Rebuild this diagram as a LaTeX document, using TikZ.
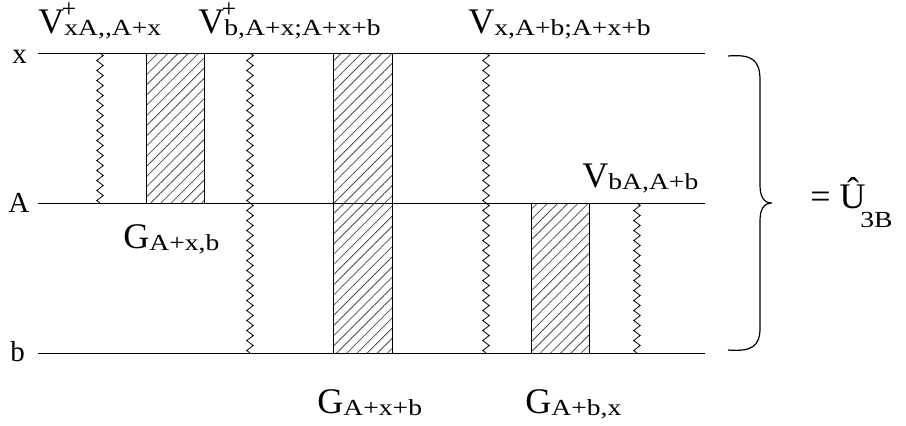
\documentclass[tikz,border=0pt]{standalone}
\usepackage{fontspec}
\setmainfont{Liberation Serif}
\newfontfamily\subfont[FakeStretch=1.2]{Liberation Serif}
\usetikzlibrary{decorations.pathmorphing,patterns.meta}

\tikzset{
  level/.style={line width=0.5pt},
  wave/.style={decorate, decoration={zigzag, segment length=5pt, amplitude=1.6pt}, line width=0.4pt},
  hatched/.style={draw, line width=0.5pt, pattern={Lines[angle=45,distance=3.6pt,line width=0.4pt]}, pattern color=black!70},
  big/.style={font=\fontsize{18pt}{20pt}\selectfont, inner sep=0pt, anchor=base west},
  lvl/.style={font=\fontsize{14.5pt}{16pt}\selectfont, inner sep=0pt, anchor=base west},
  supplus/.style={font=\fontsize{13pt}{14pt}\selectfont, inner sep=0pt},
  brace/.style={line width=0.6pt}
}
\newcommand{\lowsub}[1]{\raisebox{-1pt}{\subfont\fontsize{11.5pt}{12pt}\selectfont #1}}

\begin{document}
\begin{tikzpicture}[x=0.5pt, y=-0.5pt]
    \useasboundingbox (0,0) rectangle (906,425);

    % Levels
    \draw[level] (38,53) -- (705,53);
    \draw[level] (38,203) -- (705,203);
    \draw[level] (38,353) -- (705,353);
    \node[lvl] (lx) at (12,63) {x};
    \node[lvl] (lA) at (8,212) {A};
    \node[lvl] (lb) at (10,361) {b};

    % Hatched propagators
    \draw[hatched] (146,53) rectangle (204,203);
    \draw[hatched] (333,53) rectangle (392,353);
    \draw[hatched] (531,203) rectangle (589,353);

    % Wavy interactions
    \draw[wave] (100,53) -- (100,203);
    \draw[wave] (250,53) -- (250,353);
    \draw[wave] (486,53) -- (486,353);
    \draw[wave] (637,203) -- (637,353);

    % Interaction labels
    \node[big] (v1) at (38,33) {V\lowsub{xA,,A+x}};
    \node[supplus] (p1) at (69,10) {+};
    \node[big] (v2) at (198,33) {V\lowsub{b,A+x;A+x+b}};
    \node[supplus] (p2) at (229,10) {+};
    \node[big] (v3) at (468,33) {V\lowsub{x,A+b;A+x+b}};
    \node[big] (v4) at (582,187) {V\lowsub{bA,A+b}};

    % Propagator labels
    \node[big] (g1) at (123,248) {G\lowsub{A+x,b}};
    \node[big] (g2) at (317,413) {G\lowsub{A+x+b}};
    \node[big] (g3) at (525,413) {G\lowsub{A+b,x}};

    % Brace and result
    \draw[brace] (728,56) .. controls (752,54) and (760,60) .. (760,80)
        -- (760,185) .. controls (760,197) and (764,203) .. (772,203)
        .. controls (764,203) and (760,209) .. (760,221)
        -- (760,328) .. controls (760,346) and (752,352) .. (728,350);
    \node[big] (res) at (810,208) {= \^{U}};
    \node[font=\subfont\fontsize{11.5pt}{13pt}\selectfont, inner sep=0pt, anchor=base west] (sub) at (860,227) {3B};
\end{tikzpicture}
\end{document}
